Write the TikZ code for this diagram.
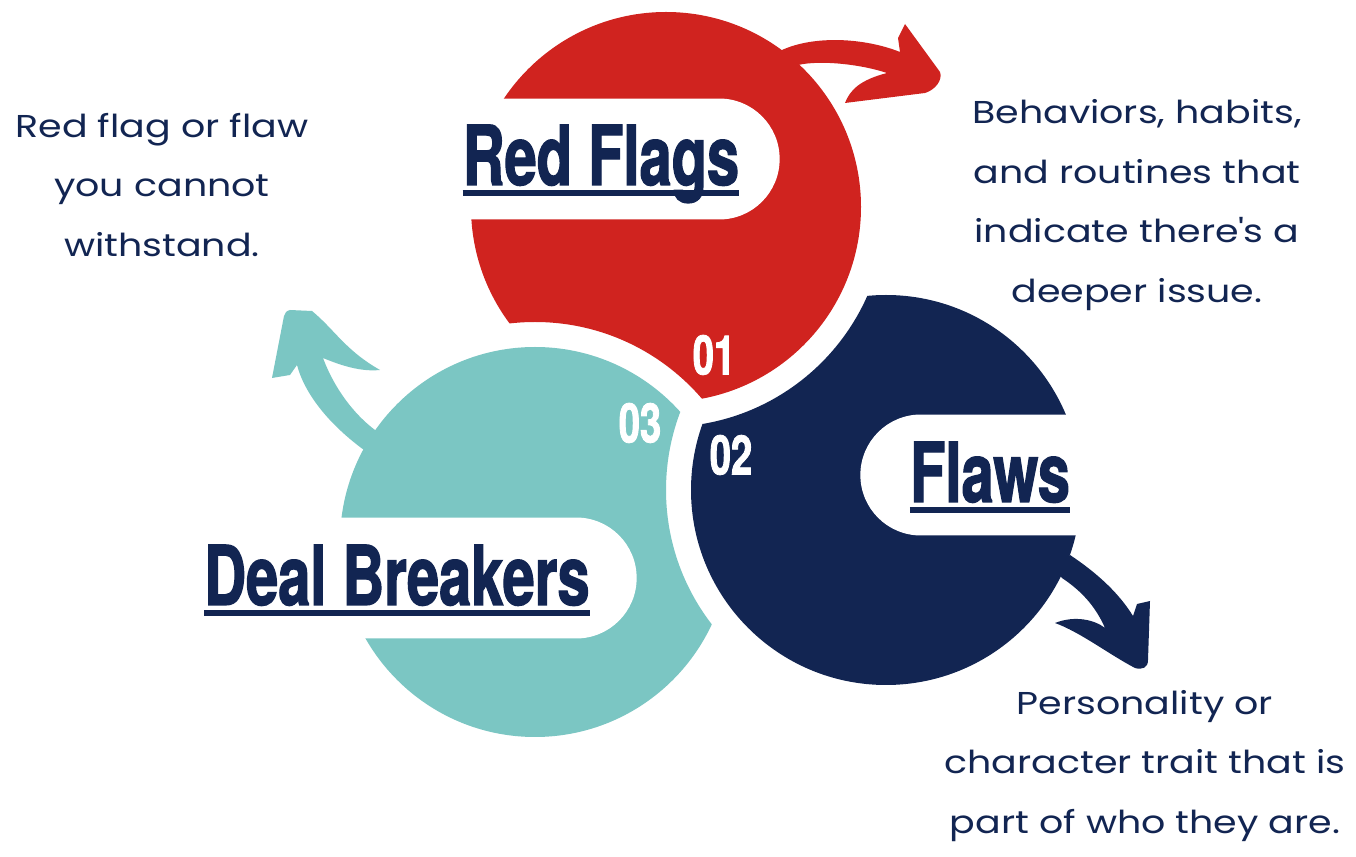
\documentclass[tikz,border=0pt]{standalone}
\usepackage{fontspec}
\setmainfont{Poppins}[FakeStretch=1.2]
\newfontfamily\headfont{TeX Gyre Heros}[FakeStretch=0.7,FakeBold=1.5]
\usetikzlibrary{shapes.misc}
\definecolor{flagred}{HTML}{D0231F}
\definecolor{dealteal}{HTML}{7BC6C3}
\definecolor{flawnavy}{HTML}{122552}

\begin{document}
\begin{tikzpicture}[x=0.02cm,y=-0.02cm,
  pill/.style={rounded rectangle,fill=white,minimum height=2.42cm,inner sep=0pt},
  title/.style={text=flawnavy,font=\headfont\bfseries\fontsize{47}{47}\selectfont,inner sep=0pt,anchor=base},
  uline/.style={flawnavy,line width=3.4pt},
  number/.style={text=white,font=\headfont\bfseries\fontsize{31}{31}\selectfont,inner sep=0pt},
  note/.style={text=flawnavy,align=center,font=\fontsize{18}{34}\selectfont,inner sep=0pt}]
\useasboundingbox (0,0) rectangle (1356,857);
\fill[white] (0,0) rectangle (1356,857);
\coordinate (redc) at (666,207);
\coordinate (tealc) at (535,542);
\coordinate (navyc) at (886,490);
\begin{scope}[even odd rule]
\clip (0,0) rectangle (1356,857) (tealc) circle (220);
\fill[flagred] (redc) circle (195);
\end{scope}
\begin{scope}[even odd rule]
\clip (0,0) rectangle (1356,857) (navyc) circle (220);
\fill[dealteal] (tealc) circle (195);
\end{scope}
\begin{scope}[even odd rule]
\clip (0,0) rectangle (1356,857) (redc) circle (220);
\fill[flawnavy] (navyc) circle (195);
\end{scope}
\fill[flagred] (775,62) -- (782,50) .. controls (815,35) and (865,38) .. (900,52) -- (898,38) -- (905,24) -- (940,72) .. controls (943,80) and (935,90) .. (925,93) -- (845,103) .. controls (850,90) and (860,80) .. (887,73) .. controls (860,64) and (820,60) .. (798,65) -- cycle;
\fill[dealteal] (390,440) -- (375,430) .. controls (355,415) and (335,390) .. (323,358) .. controls (340,365) and (360,372) .. (380,370) .. controls (345,350) and (335,330) .. (312,311) -- (290,310) .. controls (286,311) and (285,313) .. (284,316) -- (272,378) -- (290,375) -- (297,365) .. controls (305,395) and (330,425) .. (364,450) -- cycle;
\fill[flawnavy] (1055,570) -- (1070,555) .. controls (1100,575) and (1120,595) .. (1133,616) -- (1137,604) -- (1150,601) -- (1148,660) .. controls (1148,668) and (1142,670) .. (1135,668) .. controls (1110,655) and (1080,632) .. (1055,623) .. controls (1075,615) and (1095,620) .. (1105,628) .. controls (1095,605) and (1080,590) .. (1062,578) -- cycle;
\node[pill,minimum width=7.6cm,anchor=east] (redpill) at (780,159) {};
\node[pill,minimum width=6cm,anchor=west] (flawpill) at (860,475) {};
\node[pill,minimum width=10cm,anchor=east] (dealpill) at (637,578) {};
\node[title] (redtitle) at (601,185) {Red Flags};
\node[title] (flawtitle) at (990,502) {Flaws};
\node[title] (dealtitle) at (397,605) {Deal Breakers};
\draw[uline] ([yshift=-0.16cm]redtitle.base west) -- ([yshift=-0.16cm]redtitle.base east);
\draw[uline] ([yshift=-0.16cm]flawtitle.base west) -- ([yshift=-0.16cm]flawtitle.base east);
\draw[uline] ([yshift=-0.16cm]dealtitle.base west) -- ([yshift=-0.16cm]dealtitle.base east);
\node[number] (one) at (714,355) {01};
\node[number] (two) at (731,455) {02};
\node[number] (three) at (640,423) {03};
\node[note] (dealnote) at (162,185) {Red flag or flaw\\you cannot\\withstand.};
\node[note] (rednote) at (1137,205) {Behaviors, habits,\\and routines that\\indicate there\textquotesingle s a\\deeper issue.};
\node[note] (flawnote) at (1145,766) {Personality or\\character trait that is\\part of who they are.};
\end{tikzpicture}
\end{document}
